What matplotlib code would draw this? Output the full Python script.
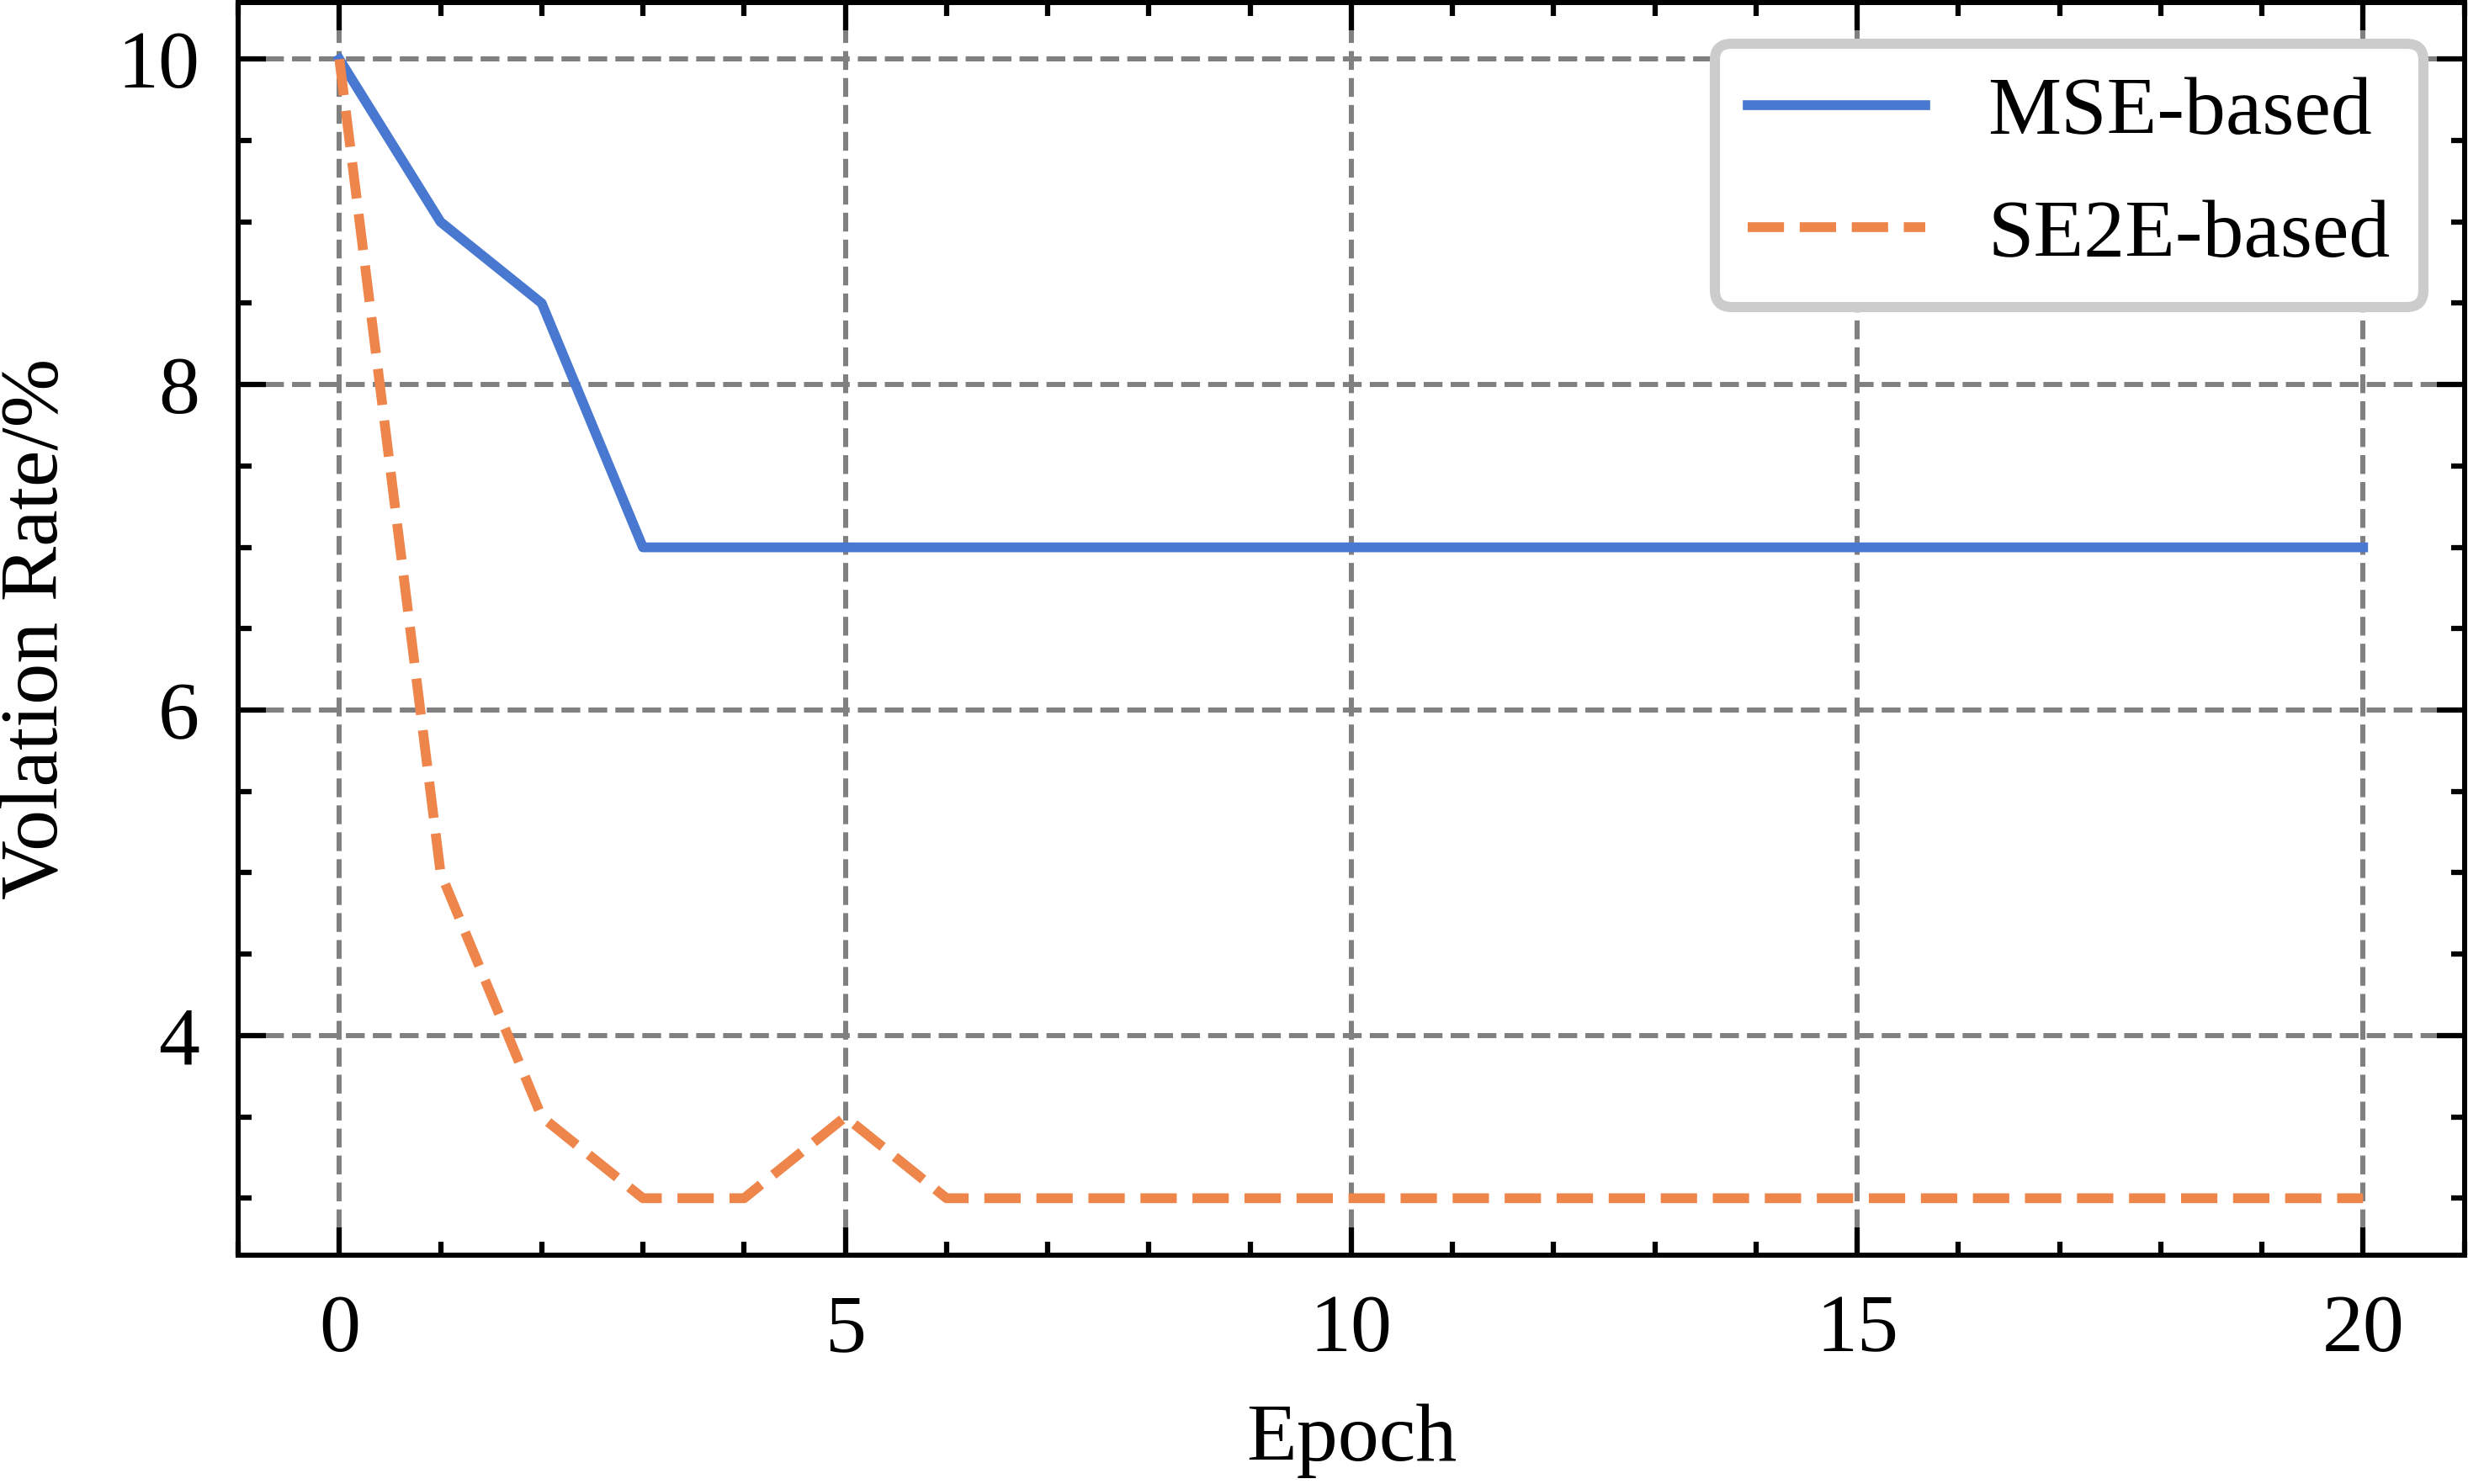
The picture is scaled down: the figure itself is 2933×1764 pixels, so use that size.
import matplotlib

matplotlib.use("Agg")
import matplotlib.pyplot as plt
from matplotlib.ticker import MultipleLocator

# Datos
epochs = list(range(21))
mse_based = [10, 9, 8.5, 7, 7, 7, 7, 7, 7, 7, 7, 7, 7, 7, 7, 7, 7, 7, 7, 7, 7]
se2e_based = [10, 5, 3.5, 3, 3, 3.5, 3, 3, 3, 3, 3, 3, 3, 3, 3, 3, 3, 3, 3, 3, 3]

BLUE = "#4878d0"
ORANGE = "#ee854a"
GRID = "#808080"

plt.rcParams.update({
    "font.family": "serif",
    "font.serif": ["Liberation Serif", "Times New Roman", "DejaVu Serif"],
    "mathtext.fontset": "stix",
    "font.size": 23.5,
    "axes.linewidth": 1.45,
    "xtick.direction": "in",
    "ytick.direction": "in",
    "xtick.top": True,
    "ytick.right": True,
    "xtick.major.size": 8,
    "ytick.major.size": 8,
    "xtick.minor.size": 3.8,
    "ytick.minor.size": 3.8,
    "xtick.major.width": 1.5,
    "ytick.major.width": 1.5,
    "xtick.minor.width": 1.5,
    "ytick.minor.width": 1.5,
    "xtick.major.pad": 11,
    "ytick.major.pad": 11,
})

fig = plt.figure(figsize=(2933 / 300, 1764 / 300), dpi=300)
ax = fig.add_axes([0.0965, 0.1542, 0.9985 - 0.0965, 0.9985 - 0.1542])

ax.plot(epochs, mse_based, color=BLUE, lw=2.8, label="MSE-based")
ax.plot(epochs, se2e_based, color=ORANGE, lw=2.8, ls="--", label="SE2E-based")

ax.xaxis.set_major_locator(MultipleLocator(5))
ax.xaxis.set_minor_locator(MultipleLocator(1))
ax.yaxis.set_major_locator(MultipleLocator(2))
ax.yaxis.set_minor_locator(MultipleLocator(0.5))
ax.grid(True, which="major", color=GRID, ls="--", lw=1.45)
ax.set_axisbelow(True)

ax.set_xlabel("Epoch", labelpad=10)
ax.set_ylabel("Volation Rate/%", labelpad=12)

leg = ax.legend(loc="upper right", fancybox=True, framealpha=1,
                edgecolor="#cccccc", handlelength=2.15, handletextpad=0.76,
                labelspacing=0.57, borderpad=0.4)
leg.get_frame().set_linewidth(2.9)

fig.savefig("out.png", dpi=300, facecolor="white")
